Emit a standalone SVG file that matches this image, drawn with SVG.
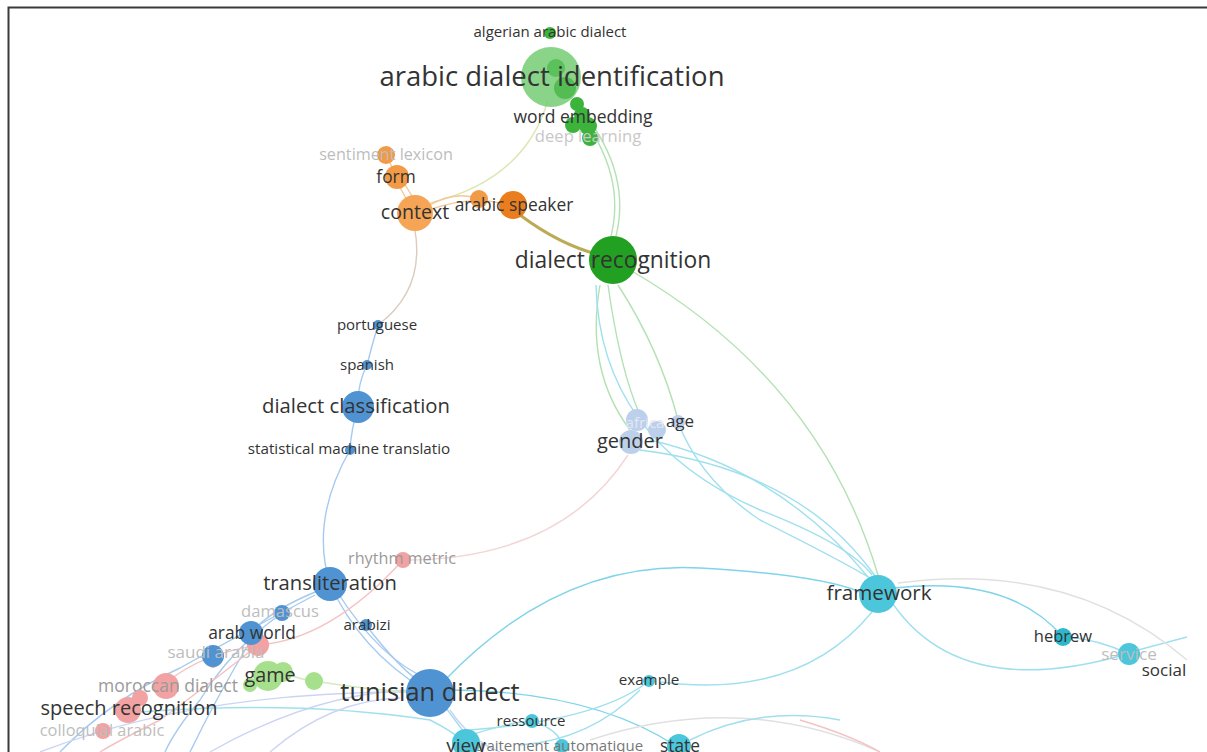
<svg xmlns="http://www.w3.org/2000/svg" width="1207" height="752" viewBox="0 0 1207 752">
<style>
text{font-family:"Open Sans","DejaVu Sans",sans-serif;text-anchor:middle}
.lb{fill:#333}
.fd{fill:#bdbdbd}
.e{fill:none;stroke-width:1.4}
.eg{stroke:#b2e2b2}
.ey{stroke:#dce6b0}
.eo{stroke:#f3c896}
.eb{stroke:#a6caee}
.ec{stroke:#a0e0ee}
.er{stroke:#f5c2c2}
.el{stroke:#ccd4f4}
.ex{stroke:#e0e0e0}
.ng{fill:#3cb43c}
.nG{fill:#74cd74;fill-opacity:.85}
.no{fill:#f29a45}
.nb{fill:#4f93d2}
.nc{fill:#4cc6da}
.nr{fill:#f2a2a2}
.nl{fill:#a6e08c}
.nv{fill:#bcd0ec}
</style>
<rect x="0" y="0" width="1207" height="752" fill="#fff"/>
<path d="M8.5 752 V7.5 H1207" fill="none" stroke="#3a3a3a" stroke-width="2"/>
<g id="connectors">
<path class="e eg" d="M578 112 Q628 175 610 240"/>
<path class="e eg" d="M583 112 Q633 175 615 240"/>
<path class="e ey" d="M548 100 Q525 180 430 203"/>
<path class="e eo" d="M428 206 Q455 190 479 199"/>
<path class="e eo" d="M428 210 Q470 196 500 203"/>
<path class="e eo" d="M395 178 L410 206"/>
<path class="e eo" d="M401 178 L418 206"/>
<path class="e eo" d="M386 155 L397 177"/>
<path d="M520 215 Q560 245 600 255" fill="none" stroke="#bcab55" stroke-width="3"/>
<path class="e" stroke="#dccbbd" d="M415 230 Q425 290 378 325"/>
<path class="e eb" d="M378 325 Q372 345 367 365 Q357 385 358 407 Q351 430 350 450 Q310 520 330 584"/>
<path class="e eb" d="M330 584 Q360 650 425 690"/>
<path class="e eb" d="M336 590 Q380 660 430 680"/>
<path class="e eb" d="M366 625 Q400 670 428 688"/>
<path class="e eb" d="M320 590 Q270 610 251 633"/>
<path class="e eb" d="M315 595 Q230 640 180 668 Q110 700 60 752"/>
<path class="e eb" d="M282 613 Q230 650 200 700 Q175 730 165 752"/>
<path class="e eb" d="M251 640 Q215 700 190 752"/>
<path class="e" stroke="#f3d6d6" d="M403 560 Q560 560 628 455"/>
<path class="e er" d="M403 560 Q330 640 258 645 Q200 655 170 680"/>
<path class="e er" d="M258 645 Q215 680 160 720 Q120 740 100 752"/>
<path class="e eg" d="M600 285 Q585 370 630 430"/>
<path class="e eg" d="M608 285 Q620 370 640 415"/>
<path class="e eg" d="M618 285 Q660 350 678 420"/>
<path class="e eg" d="M630 270 Q820 380 878 575"/>
<path class="e ec" d="M596 285 Q600 440 760 510 Q850 545 872 575"/>
<path class="e ec" d="M678 422 Q700 480 760 520 Q840 560 870 578"/>
<path class="e ec" d="M650 440 Q780 470 868 577"/>
<path class="e ec" d="M640 450 Q800 470 875 576"/>
<path class="e" stroke="#7fd4ea" d="M445 680 Q560 560 700 568 Q820 575 860 592"/>
<path class="e ec" d="M872 612 Q800 700 660 682"/>
<path class="e" stroke="#7fd4ea" d="M895 588 Q1010 575 1063 637"/>
<path class="e ec" d="M893 604 Q960 700 1120 656"/>
<path class="e ec" d="M1068 637 Q1100 640 1129 654"/>
<path class="e ec" d="M1138 650 L1187 637"/>
<path class="e ex" d="M898 583 Q1070 560 1187 660"/>
<path class="e" stroke="#7fd4ea" d="M445 690 Q590 690 676 746"/>
<path class="e ec" d="M470 730 Q600 720 649 681"/>
<path class="e ec" d="M470 735 Q520 720 532 721 Q560 730 562 746"/>
<path class="e ec" d="M440 700 Q455 720 466 735"/>
<path class="e ec" d="M640 690 Q590 740 520 745"/>
<path class="e ex" d="M590 740 Q740 690 880 752"/>
<path class="e er" d="M800 720 Q850 735 880 752"/>
<path class="e ec" d="M690 740 Q760 705 840 720"/>
<path class="e el" d="M40 752 Q200 690 420 692"/>
<path class="e el" d="M210 752 Q320 690 420 690"/>
<path class="e el" d="M450 710 Q470 740 500 752"/>
<path class="e ec" d="M140 712 Q300 700 430 720 Q450 730 462 740"/>
<path class="e el" d="M270 752 Q330 700 400 698"/>
<path class="e" stroke="#d4ebbd" d="M283 672 Q300 680 314 681 Q370 690 410 692"/>
</g>
<g id="n-algerian"><circle class="ng" cx="550" cy="33" r="6"/><text class="lb" x="550" y="37" font-size="15">algerian arabic dialect</text></g>
<g id="n-adi"><circle class="nG" cx="551" cy="77" r="30"/><circle class="ng" cx="556" cy="68" r="9" fill-opacity=".6"/><circle class="ng" cx="565" cy="88" r="11" fill-opacity=".7"/><circle class="ng" cx="577" cy="104" r="7"/><circle class="ng" cx="582" cy="115" r="8"/><circle class="ng" cx="573" cy="125" r="8"/><circle class="ng" cx="588" cy="126" r="9"/><circle class="ng" cx="590" cy="138" r="8"/><text class="lb" x="552" y="86" font-size="27.5">arabic dialect identification</text></g>
<g id="n-word-embedding"><text class="lb" x="583" y="123" font-size="17.5">word embedding</text></g>
<g id="n-deep-learning"><text x="588" y="142" font-size="16.6" fill="#c8c8c8">deep learning</text></g>
<g id="n-sentiment"><circle class="no" cx="386" cy="155" r="9"/><text class="fd" x="386" y="160" font-size="16.2">sentiment lexicon</text></g>
<g id="n-form"><circle class="no" cx="397" cy="177" r="12"/><text class="lb" x="396" y="183" font-size="17.3">form</text></g>
<g id="n-context"><circle cx="415" cy="213" r="18" fill="#f5a555"/><text class="lb" x="415" y="219" font-size="19.6">context</text></g>
<g id="n-arabic-speaker"><circle class="no" cx="479" cy="199" r="9"/><circle cx="513" cy="205" r="14" fill="#ea7e1e"/><text class="lb" x="514" y="211" font-size="17.4">arabic speaker</text></g>
<g id="n-dialect-recognition"><circle cx="613" cy="260" r="24" fill="#22a022"/><text class="lb" x="613" y="268" font-size="22.8">dialect recognition</text></g>
<g id="n-portuguese"><circle class="nb" cx="378" cy="325" r="5"/><text class="lb" x="377" y="330" font-size="15">portuguese</text></g>
<g id="n-spanish"><circle class="nb" cx="367" cy="365" r="5"/><text class="lb" x="367" y="370" font-size="15">spanish</text></g>
<g id="n-dialect-classification"><circle class="nb" cx="358" cy="407" r="16"/><text class="lb" x="356" y="413" font-size="20.3">dialect classification</text></g>
<g id="n-smt"><circle class="nb" cx="350" cy="450" r="5"/><text class="lb" x="349" y="454" font-size="15.2">statistical machine translatio</text></g>
<g id="n-gender"><circle class="nv" cx="637" cy="420" r="11"/><circle class="nv" cx="657" cy="430" r="9"/><circle class="nv" cx="678" cy="422" r="7"/><text x="645" y="428" font-size="15" fill="#e2e8f2">africa</text><circle class="nv" cx="631" cy="442" r="12"/><text class="lb" x="630" y="448" font-size="20">gender</text><text class="lb" x="680" y="427" font-size="17">age</text></g>
<g id="n-rhythm"><circle class="nr" cx="403" cy="560" r="8"/><text x="402" y="564" font-size="16.2" fill="#9a9a9a">rhythm metric</text></g>
<g id="n-transliteration"><circle class="nb" cx="330" cy="584" r="17"/><text class="lb" x="330" y="590" font-size="20.2">transliteration</text></g>
<g id="n-damascus"><circle class="nb" cx="282" cy="613" r="8"/><text class="fd" x="280" y="617" font-size="16.6">damascus</text></g>
<g id="n-arabizi"><circle class="nb" cx="366" cy="625" r="6"/><text class="lb" x="367" y="630" font-size="15.2">arabizi</text></g>
<g id="n-saudi"><circle class="nr" cx="258" cy="645" r="11"/><circle class="nr" cx="213" cy="663" r="5"/><circle class="nb" cx="213" cy="656" r="11"/><text class="fd" x="216" y="658" font-size="17">saudi arabia</text></g>
<g id="n-arab-world"><circle class="nb" cx="251" cy="633" r="12"/><text class="lb" x="252" y="639" font-size="17.4">arab world</text></g>
<g id="n-game"><circle class="nl" cx="314" cy="681" r="9"/><circle class="nl" cx="250" cy="685" r="7"/><circle class="nl" cx="283" cy="672" r="10"/><circle class="nl" cx="268" cy="676" r="15"/><text class="lb" x="270" y="682" font-size="19.8">game</text></g>
<g id="n-moroccan"><circle class="nr" cx="166" cy="686" r="13"/><text x="168" y="692" font-size="17.5" fill="#9a9a9a">moroccan dialect</text></g>
<g id="n-speech"><circle class="nr" cx="140" cy="698" r="8"/><circle class="nr" cx="128" cy="710" r="13"/><text class="lb" x="129" y="715" font-size="20">speech recognition</text></g>
<g id="n-colloquial"><circle class="nr" cx="103" cy="731" r="8"/><text class="fd" x="102" y="736" font-size="16.4">colloquial arabic</text></g>
<g id="n-tunisian"><circle class="nb" cx="430" cy="693" r="24"/><text class="lb" x="430" y="701" font-size="25.4">tunisian dialect</text></g>
<g id="n-framework"><circle class="nc" cx="878" cy="594" r="19"/><text class="lb" x="879" y="600" font-size="20.6">framework</text></g>
<g id="n-hebrew"><circle cx="1063" cy="637" r="9" fill="#2bb8cc"/><text class="lb" x="1063" y="642" font-size="16.5">hebrew</text></g>
<g id="n-service"><circle class="nc" cx="1129" cy="654" r="11"/><text class="fd" x="1129" y="660" font-size="17.2">service</text></g>
<g id="n-social"><text class="lb" x="1164" y="676" font-size="17">social</text></g>
<g id="n-example"><circle class="nc" cx="649" cy="681" r="6"/><text class="lb" x="649" y="685" font-size="15.2">example</text></g>
<g id="n-ressource"><circle class="nc" cx="532" cy="721" r="7"/><text class="lb" x="531" y="726" font-size="15">ressource</text></g>
<g id="n-traitement"><circle class="nc" cx="562" cy="746" r="7"/><text x="559" y="751" font-size="15" fill="#777">traitement automatique</text></g>
<g id="n-view"><circle class="nc" cx="466" cy="743" r="14"/><text class="lb" x="466" y="752" font-size="19">view</text></g>
<g id="n-state"><circle class="nc" cx="679" cy="746" r="12"/><text class="lb" x="680" y="752" font-size="17.3">state</text></g>
</svg>
